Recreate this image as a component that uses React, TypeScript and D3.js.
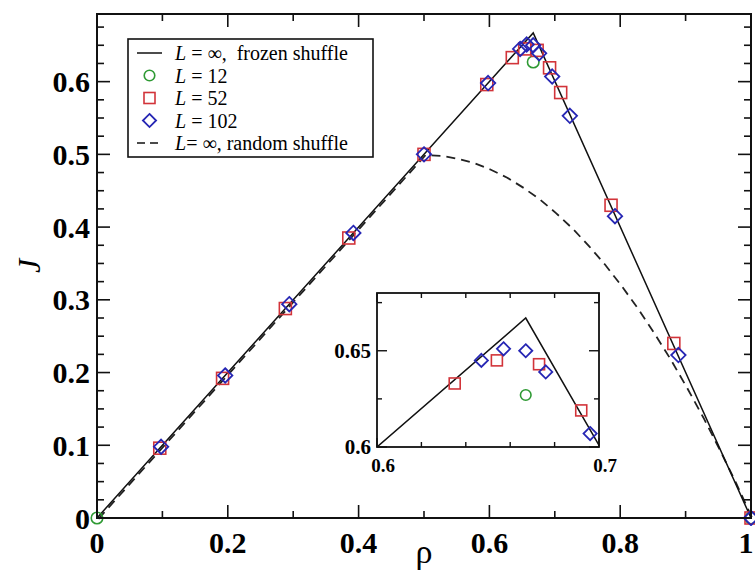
import React from "react";
import * as d3 from "d3";

// ---- data ----
const frozenRho = [0, 0.667, 1];
const frozenJ = [0, 0.667, 0];

const randomRho = [0, 0.5, 0.525, 0.55, 0.575, 0.6, 0.625, 0.65, 0.675, 0.7, 0.725, 0.75, 0.775, 0.8, 0.825, 0.85, 0.875, 0.9, 0.925, 0.95, 0.975, 1];
const randomJ = [0, 0.5, 0.499, 0.495, 0.489, 0.48, 0.469, 0.455, 0.439, 0.42, 0.399, 0.375, 0.349, 0.32, 0.289, 0.255, 0.219, 0.18, 0.139, 0.095, 0.049, 0];

const rhoL12 = [0, 0.667, 1];
const jL12 = [0, 0.627, 0];

const rhoL52 = [0.096, 0.192, 0.288, 0.385, 0.5, 0.596, 0.635, 0.654, 0.673, 0.692, 0.709, 0.786, 0.882, 1];
const jL52 = [0.096, 0.192, 0.288, 0.385, 0.5, 0.596, 0.633, 0.645, 0.643, 0.619, 0.585, 0.43, 0.24, 0];

const rhoL102 = [0.098, 0.196, 0.294, 0.392, 0.5, 0.598, 0.647, 0.657, 0.667, 0.676, 0.696, 0.723, 0.792, 0.889, 1];
const jL102 = [0.098, 0.196, 0.294, 0.392, 0.5, 0.598, 0.645, 0.651, 0.65, 0.639, 0.607, 0.553, 0.415, 0.224, 0];

const xMajor = [0, 0.2, 0.4, 0.6, 0.8, 1];
const xMajorLabels = ["0", "0.2", "0.4", "0.6", "0.8", "1"];
const xMinor = [0.1, 0.3, 0.5, 0.7, 0.9];
const yMajor = [0, 0.1, 0.2, 0.3, 0.4, 0.5, 0.6];
const yMajorLabels = ["0", "0.1", "0.2", "0.3", "0.4", "0.5", "0.6"];
const yMinor = [0.025, 0.05, 0.075, 0.125, 0.15, 0.175, 0.225, 0.25, 0.275, 0.325, 0.35, 0.375, 0.425, 0.45, 0.475, 0.525, 0.55, 0.575, 0.625, 0.65, 0.675];

const insetXMajor = [0.6, 0.7];
const insetXLabels = ["0.6", "0.7"];
const insetXMinor = [0.62, 0.64, 0.66, 0.68];
const insetYMajor = [0.6, 0.65];
const insetYLabels = ["0.6", "0.65"];
const insetYMinor = [0.625, 0.675];

const GREEN = "#2f9a34";
const RED = "#d2343a";
const BLUE = "#2626b4";

const serif = "'Liberation Serif', 'Times New Roman', serif";

type MarkerKind = "circle" | "square" | "diamond";

function Marker({ kind, cx, cy, s }: { kind: MarkerKind; cx: number; cy: number; s: number }) {
  if (kind === "circle")
    return <circle cx={cx} cy={cy} r={s * 0.48} fill="none" stroke={GREEN} strokeWidth={1.6} />;
  if (kind === "square")
    return <rect x={cx - s / 2} y={cy - s / 2} width={s} height={s} fill="none" stroke={RED} strokeWidth={1.6} />;
  const h = s * 0.6;
  return (
    <path d={`M${cx},${cy - h}L${cx + h},${cy}L${cx},${cy + h}L${cx - h},${cy}Z`} fill="none" stroke={BLUE} strokeWidth={1.8} />
  );
}

export default function App() {
  const x = d3.scaleLinear().domain([0, 1]).range([97, 751]);
  const y = d3.scaleLinear().domain([0, 0.693]).range([518, 14]);
  const xi = d3.scaleLinear().domain([0.6, 0.7]).range([377, 599]);
  const yi = d3.scaleLinear().domain([0.6, 0.68]).range([447, 293]);

  const frozenPts = frozenRho.map((r, i) => [r, frozenJ[i]] as [number, number]);
  const randomPts = randomRho.map((r, i) => [r, randomJ[i]] as [number, number]);
  const mainLine = d3.line<[number, number]>().x((d) => x(d[0])).y((d) => y(d[1]));
  const frozenPath = mainLine(frozenPts) || "";
  const randomPath = mainLine(randomPts) || "";
  const frozenInset = d3.line<[number, number]>().x((d) => xi(d[0])).y((d) => yi(d[1]))(frozenPts) || "";

  const [x0, x1] = x.range();
  const [y0, y1] = y.range();
  const [ix0, ix1] = xi.range();
  const [iy0, iy1] = yi.range();

  const series: { kind: MarkerKind; rho: number[]; j: number[] }[] = [
    { kind: "circle", rho: rhoL12, j: jL12 },
    { kind: "square", rho: rhoL52, j: jL52 },
    { kind: "diamond", rho: rhoL102, j: jL102 },
  ];

  const legendRows = [53, 75.5, 98, 120.5, 143];

  return (
    <svg width={755} height={570} style={{ position: "absolute", left: 0, top: 0, background: "#fff" }} fontFamily={serif}>
      <rect x={0} y={0} width={755} height={570} fill="#fff" />
      <defs>
        <clipPath id="mainclip">
          <rect x={x0 - 8} y={y1} width={x1 - x0 + 16} height={y0 - y1 + 8} />
        </clipPath>
        <clipPath id="insetclip">
          <rect x={ix0} y={iy1} width={ix1 - ix0} height={iy0 - iy1} />
        </clipPath>
      </defs>

      {/* main lines */}
      <g clipPath="url(#mainclip)">
        <path d={randomPath} transform="translate(1.5,0.8)" fill="none" stroke="#222" strokeWidth={1.8} strokeDasharray="9,6" />
        <path d={frozenPath} fill="none" stroke="#111" strokeWidth={1.5} />
        {series.map((s) =>
          s.rho.map((r, i) => <Marker key={s.kind + i} kind={s.kind} cx={x(r)} cy={y(s.j[i])} s={12} />)
        )}
      </g>

      {/* frame */}
      <rect x={x0} y={y1} width={x1 - x0} height={y0 - y1} fill="none" stroke="#111" strokeWidth={2} />

      {/* x ticks */}
      {xMajor.map((v) => (
        <g key={"xM" + v}>
          <line x1={x(v)} x2={x(v)} y1={y0} y2={y0 - 13} stroke="#111" strokeWidth={1.6} />
          <line x1={x(v)} x2={x(v)} y1={y1} y2={y1 + 13} stroke="#111" strokeWidth={1.6} />
        </g>
      ))}
      {xMinor.map((v) => (
        <g key={"xm" + v}>
          <line x1={x(v)} x2={x(v)} y1={y0} y2={y0 - 7} stroke="#111" strokeWidth={1.6} />
          <line x1={x(v)} x2={x(v)} y1={y1} y2={y1 + 7} stroke="#111" strokeWidth={1.6} />
        </g>
      ))}
      {xMajor.map((v, i) => (
        <text key={"xl" + v} x={Math.min(x(v), 746)} y={y0 + 35} textAnchor="middle" fontSize={30} fontWeight="bold">
          {xMajorLabels[i]}
        </text>
      ))}

      {/* y ticks */}
      {yMajor.map((v) => (
        <g key={"yM" + v}>
          <line x1={x0} x2={x0 + 13} y1={y(v)} y2={y(v)} stroke="#111" strokeWidth={1.6} />
          <line x1={x1} x2={x1 - 13} y1={y(v)} y2={y(v)} stroke="#111" strokeWidth={1.6} />
        </g>
      ))}
      {yMinor.map((v) => (
        <g key={"ym" + v}>
          <line x1={x0} x2={x0 + 7} y1={y(v)} y2={y(v)} stroke="#111" strokeWidth={1.6} />
          <line x1={x1} x2={x1 - 7} y1={y(v)} y2={y(v)} stroke="#111" strokeWidth={1.6} />
        </g>
      ))}
      {yMajor.map((v, i) => (
        <text key={"yl" + v} x={x0 - 7} y={y(v)} dy="0.35em" textAnchor="end" fontSize={30} fontWeight="bold">
          {yMajorLabels[i]}
        </text>
      ))}

      {/* axis titles */}
      <text x={(x0 + x1) / 2} y={563} textAnchor="middle" fontSize={34}>ρ</text>
      <text transform={`translate(40,${(y0 + y1) / 2}) rotate(-90)`} textAnchor="middle" fontSize={32} fontStyle="italic">J</text>

      {/* legend */}
      <rect x={128} y={39} width={245} height={118} fill="#fff" stroke="#111" strokeWidth={1.6} />
      <line x1={137} x2={162} y1={legendRows[0]} y2={legendRows[0]} stroke="#111" strokeWidth={1.5} />
      <Marker kind="circle" cx={149.5} cy={legendRows[1]} s={11} />
      <Marker kind="square" cx={149.5} cy={legendRows[2]} s={11} />
      <Marker kind="diamond" cx={149.5} cy={legendRows[3]} s={11} />
      <line x1={137} x2={162} y1={legendRows[4]} y2={legendRows[4]} stroke="#111" strokeWidth={1.6} strokeDasharray="8,5" />
      <g fontSize={20}>
        <text x={175} y={legendRows[0]} dy="0.35em" xmlSpace="preserve">
          <tspan fontStyle="italic">L</tspan> = ∞,  frozen shuffle
        </text>
        <text x={175} y={legendRows[1]} dy="0.35em" xmlSpace="preserve">
          <tspan fontStyle="italic">L</tspan> = 12
        </text>
        <text x={175} y={legendRows[2]} dy="0.35em" xmlSpace="preserve">
          <tspan fontStyle="italic">L</tspan> = 52
        </text>
        <text x={175} y={legendRows[3]} dy="0.35em" xmlSpace="preserve">
          <tspan fontStyle="italic">L</tspan> = 102
        </text>
        <text x={175} y={legendRows[4]} dy="0.35em" xmlSpace="preserve">
          <tspan fontStyle="italic">L</tspan>= ∞, random shuffle
        </text>
      </g>

      {/* inset */}
      <rect x={ix0} y={iy1} width={ix1 - ix0} height={iy0 - iy1} fill="#fff" />
      <g clipPath="url(#insetclip)">
        <path d={frozenInset} fill="none" stroke="#111" strokeWidth={1.5} />
      </g>
      {series.map((s) =>
        s.rho.map((r, i) =>
          r >= 0.6 && r <= 0.7 ? (
            <Marker key={"in" + s.kind + i} kind={s.kind} cx={xi(r)} cy={yi(s.j[i])} s={11} />
          ) : null
        )
      )}
      <rect x={ix0} y={iy1} width={ix1 - ix0} height={iy0 - iy1} fill="none" stroke="#111" strokeWidth={1.8} />
      {insetXMajor.map((v) => (
        <g key={"ixM" + v}>
          <line x1={xi(v)} x2={xi(v)} y1={iy0} y2={iy0 - 9} stroke="#111" strokeWidth={1.4} />
          <line x1={xi(v)} x2={xi(v)} y1={iy1} y2={iy1 + 9} stroke="#111" strokeWidth={1.4} />
        </g>
      ))}
      {insetXMinor.map((v) => (
        <g key={"ixm" + v}>
          <line x1={xi(v)} x2={xi(v)} y1={iy0} y2={iy0 - 5} stroke="#111" strokeWidth={1.4} />
          <line x1={xi(v)} x2={xi(v)} y1={iy1} y2={iy1 + 5} stroke="#111" strokeWidth={1.4} />
        </g>
      ))}
      {insetYMajor.map((v) => (
        <g key={"iyM" + v}>
          <line x1={ix0} x2={ix0 + 10} y1={yi(v)} y2={yi(v)} stroke="#111" strokeWidth={1.4} />
          <line x1={ix1} x2={ix1 - 10} y1={yi(v)} y2={yi(v)} stroke="#111" strokeWidth={1.4} />
        </g>
      ))}
      {insetYMinor.map((v) => (
        <g key={"iym" + v}>
          <line x1={ix0} x2={ix0 + 5} y1={yi(v)} y2={yi(v)} stroke="#111" strokeWidth={1.4} />
          <line x1={ix1} x2={ix1 - 5} y1={yi(v)} y2={yi(v)} stroke="#111" strokeWidth={1.4} />
        </g>
      ))}
      {insetXMajor.map((v, i) => (
        <text key={"ixl" + v} x={xi(v) + 6} y={iy0 + 25} textAnchor="middle" fontSize={19} fontWeight="bold">
          {insetXLabels[i]}
        </text>
      ))}
      {insetYMajor.map((v, i) => (
        <text key={"iyl" + v} x={ix0 - 6} y={yi(v)} dy="0.35em" textAnchor="end" fontSize={21} fontWeight="bold">
          {insetYLabels[i]}
        </text>
      ))}
    </svg>
  );
}
